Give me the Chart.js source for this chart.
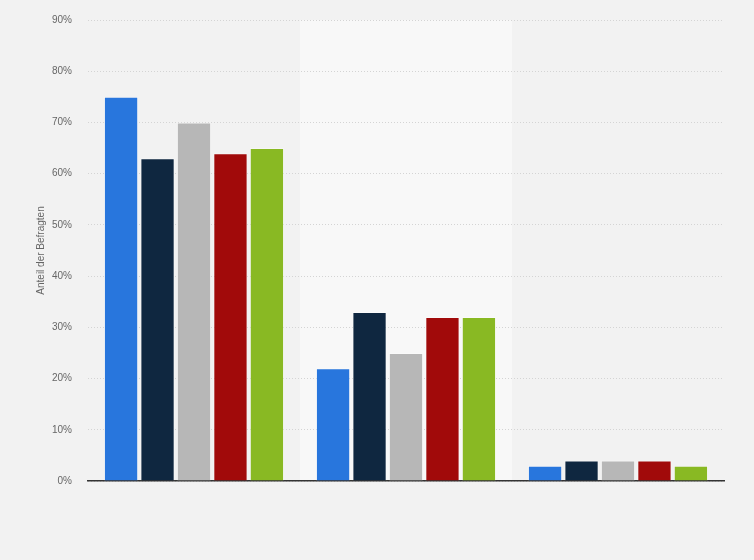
<!DOCTYPE html>
<html>
<head>
<meta charset="utf-8">
<script src="https://cdn.jsdelivr.net/npm/chart.js@4"></script>
<style>
html,body{margin:0;padding:0;background:#f2f2f2;}
#wrap{width:754px;height:560px;position:relative;}
</style>
</head>
<body>
<div id="wrap"><canvas id="c" width="754" height="560"></canvas></div>
<script>
const categories = ["Gruppe 1", "Gruppe 2", "Gruppe 3"];
const seriesNames = ["Serie 1", "Serie 2", "Serie 3", "Serie 4", "Serie 5"];
const series1 = [75, 22, 3];
const series2 = [63, 33, 4];
const series3 = [70, 25, 4];
const series4 = [64, 32, 4];
const series5 = [65, 32, 3];
const colors = ["#2876dd", "#0f2740", "#b7b7b7", "#a10a0a", "#89b923"];
const yTicks = [0, 10, 20, 30, 40, 50, 60, 70, 80, 90];

const allSeries = [series1, series2, series3, series4, series5];

const bgPlugin = {
  id: 'bg',
  beforeDraw(chart) {
    const ctx = chart.ctx;
    ctx.save();
    ctx.fillStyle = '#f2f2f2';
    ctx.fillRect(0, 0, chart.width, chart.height);
    const x = chart.scales.x;
    const area = chart.chartArea;
    const w = (area.right - area.left) / categories.length;
    for (let i = 1; i < categories.length; i += 2) {
      const cx = x.getPixelForValue(i);
      ctx.fillStyle = '#f8f8f8';
      ctx.fillRect(cx - w / 2, area.top, w, area.bottom - area.top);
    }
    ctx.restore();
  }
};

new Chart(document.getElementById('c'), {
  type: 'bar',
  data: {
    labels: categories,
    datasets: allSeries.map((d, i) => ({
      label: seriesNames[i],
      data: d,
      backgroundColor: colors[i],
      borderColor: 'rgba(255,255,255,0.35)',
      borderWidth: 1,
      categoryPercentage: 0.86,
      barPercentage: 0.94
    }))
  },
  options: {
    responsive: false,
    animation: false,
    devicePixelRatio: 1,
    layout: { padding: { top: 20, right: 30, left: 1, bottom: 0 } },
    plugins: { legend: { display: false }, tooltip: { enabled: false } },
    scales: {
      x: {
        grid: { display: false, drawTicks: false },
        border: { display: true, color: '#333', width: 1.5 },
        ticks: { display: false },
        afterFit(scale) { scale.height = 79; }
      },
      y: {
        min: 0, max: 90,
        afterBuildTicks(scale) { scale.ticks = yTicks.map(v => ({ value: v })); },
        ticks: {
          padding: 16,
          color: '#666',
          font: { family: 'Arial, "Liberation Sans", sans-serif', size: 10 },
          callback: v => v + '%'
        },
        grid: {
          color: '#d4d4d4',
          drawTicks: false,
          lineWidth: 1
        },
        border: { display: false, dash: [1, 2] },
        title: {
          display: true,
          text: 'Anteil der Befragten',
          color: '#666',
          font: { family: 'Arial, "Liberation Sans", sans-serif', size: 10 },
          padding: { top: 34, bottom: 0 }
        },
        afterFit(scale) { scale.width = 87; scale.paddingTop = 0; }
      }
    }
  },
  plugins: [bgPlugin]
});
</script>
</body>
</html>
